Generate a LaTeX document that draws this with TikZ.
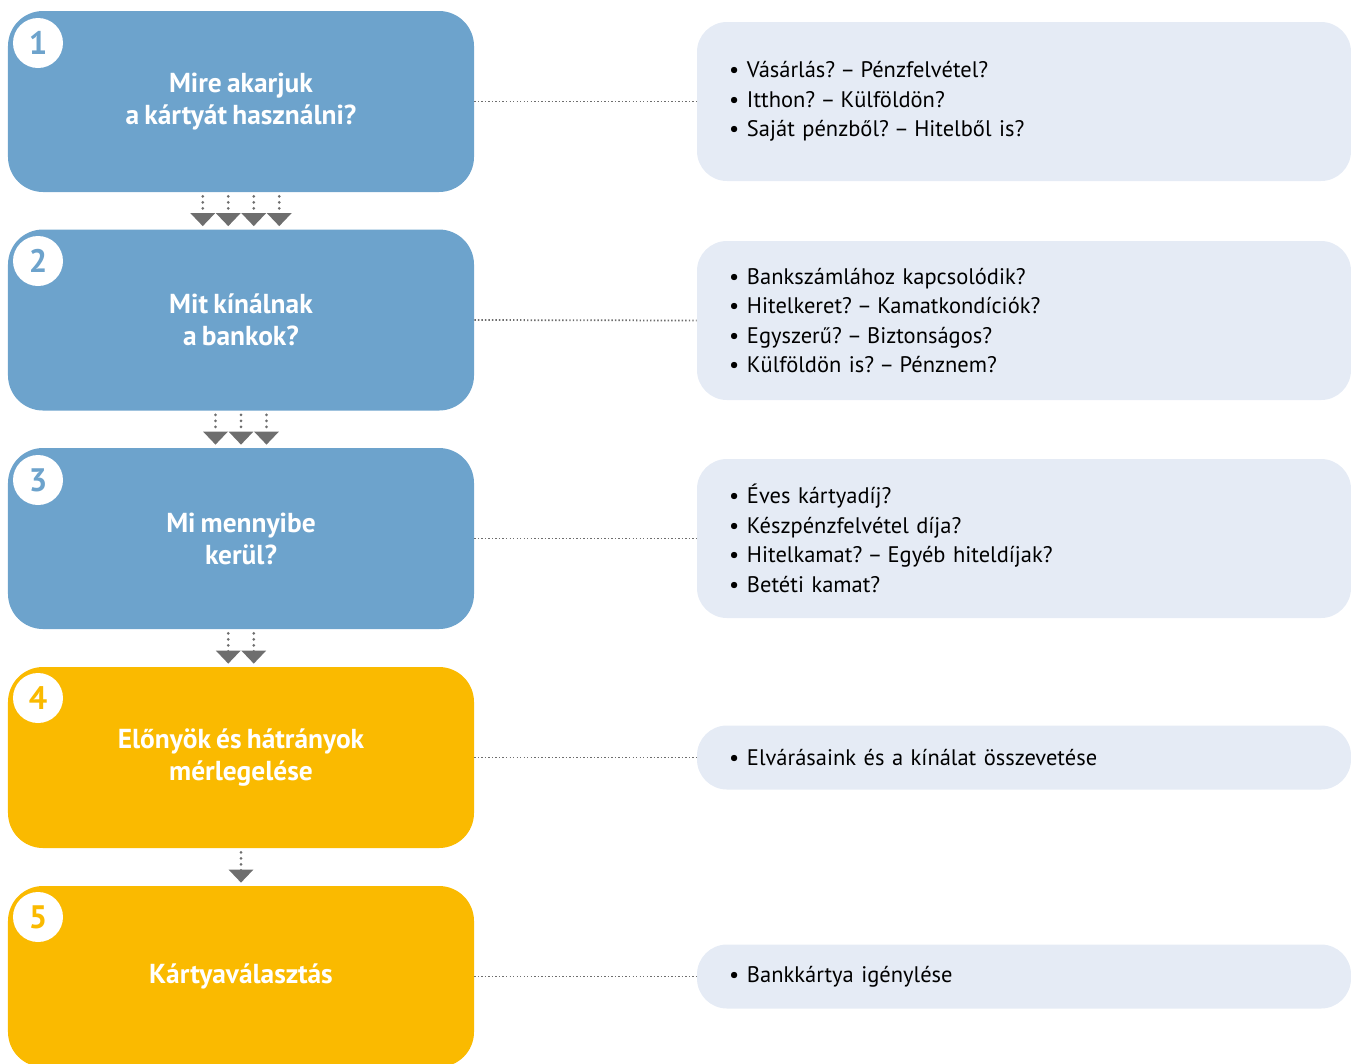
\documentclass[tikz,border=0pt]{standalone}
\usepackage{fontspec}
\setmainfont[WordSpace=0.75]{PT Sans}
\usepackage{tikz}
\usetikzlibrary{arrows.meta}

\definecolor{lepeskek}{HTML}{6DA3CC}
\definecolor{lepessarga}{HTML}{FABA00}
\definecolor{kerdeshatter}{HTML}{E5EBF5}
\definecolor{nyilszurke}{HTML}{6E6E6E}
\newcommand{\pont}{\makebox[3.6mm][l]{•}}
\newcommand{\koz}{\kern-0.1em–\kern-0.1em}
\frenchspacing

\begin{document}
\begin{tikzpicture}[x=0.2mm, y=-0.2mm,
    lepes/.style={fill=#1, rounded corners=7mm, minimum width=93.2mm, minimum height=36.2mm,
      text=white, align=center, font=\bfseries\fontsize{15.6}{18.2}\selectfont},
    szam/.style={circle, fill=white, minimum size=10mm, inner sep=0pt,
      font=\bfseries\fontsize{18.5}{18.5}\selectfont},
    kerdes/.style={fill=kerdeshatter, rounded corners=6mm, text width=118mm, inner xsep=6.4mm,
      align=left, font=\fontsize{12.8}{16.8}\selectfont},
    osszekoto/.style={nyilszurke, line width=1pt, dash pattern=on 0.8pt off 1.2pt},
    lefele/.style={nyilszurke, line width=0.6mm, line cap=round, dash pattern=on 0pt off 1.2mm,
      -{Triangle[width=4.8mm, length=2.6mm, line cap=butt]}, shorten <=0.8mm, shorten >=0.6mm}]
  \clip (0,0) rectangle (1351,1063);

  % lepesek
  \node[lepes=lepeskek] (b1) at (241,101.5) {Mire akarjuk\\a kártyát használni?};
  \node[lepes=lepeskek] (b2) at (241,320) {Mit kínálnak\\a bankok?};
  \node[lepes=lepeskek] (b3) at (241,538.5) {Mi mennyibe\\kerül?};
  \node[lepes=lepessarga] (b4) at (241,757.5) {Előnyök és hátrányok\\mérlegelése};
  \node[lepes=lepessarga] (b5) at (241,976.5) {Kártyaválasztás};

  \node[szam, text=lepeskek] (n1) at (38,43) {1};
  \node[szam, text=lepeskek] (n2) at (38,261) {2};
  \node[szam, text=lepeskek] (n3) at (38,480) {3};
  \node[szam, text=lepessarga] (n4) at (38,698) {4};
  \node[szam, text=lepessarga] (n5) at (38,917) {5};

  % kerdesek
  \node[kerdes, minimum height=31.8mm] (r1) at (1024,101.5)
    {\pont Vásárlás? \koz{} Pénzfelvétel?\\\pont Itthon? \koz{} Külföldön?\\\pont Saját pénzből? \koz{} Hitelből is?};
  \node[kerdes, minimum height=31.8mm] (r2) at (1024,320.5)
    {\pont Bankszámlához kapcsolódik?\\\pont Hitelkeret? \koz{} Kamatkondíciók?\\\pont Egyszerű? \koz{} Biztonságos?\\\pont Külföldön is? \koz{} Pénznem?};
  \node[kerdes, minimum height=31.8mm] (r3) at (1024,538.5)
    {\pont Éves kártyadíj?\\\pont Készpénzfelvétel díja?\\\pont Hitelkamat? \koz{} Egyéb hiteldíjak?\\\pont Betéti kamat?};
  \node[kerdes, minimum height=12.8mm] (r4) at (1024,757.5)
    {\pont Elvárásaink és a kínálat összevetése};
  \node[kerdes, minimum height=12.8mm] (r5) at (1024,976.5)
    {\pont Bankkártya igénylése};

  \draw[osszekoto] (b1.east) -- (r1.west);
  \draw[osszekoto] (b2.east) -- (r2.west);
  \draw[osszekoto] (b3.east) -- (r3.west);
  \draw[osszekoto] (b4.east) -- (r4.west);
  \draw[osszekoto] (b5.east) -- (r5.west);

  % nyilak
  \draw[lefele] ([xshift=-7.65mm]b1.south) -- ([xshift=-7.65mm]b2.north);
  \draw[lefele] ([xshift=-2.55mm]b1.south) -- ([xshift=-2.55mm]b2.north);
  \draw[lefele] ([xshift=2.55mm]b1.south) -- ([xshift=2.55mm]b2.north);
  \draw[lefele] ([xshift=7.65mm]b1.south) -- ([xshift=7.65mm]b2.north);
  \draw[lefele] ([xshift=-5.1mm]b2.south) -- ([xshift=-5.1mm]b3.north);
  \draw[lefele] (b2.south) -- (b3.north);
  \draw[lefele] ([xshift=5.1mm]b2.south) -- ([xshift=5.1mm]b3.north);
  \draw[lefele] ([xshift=-2.55mm]b3.south) -- ([xshift=-2.55mm]b4.north);
  \draw[lefele] ([xshift=2.55mm]b3.south) -- ([xshift=2.55mm]b4.north);
  \draw[lefele] (b4.south) -- (b5.north);
\end{tikzpicture}
\end{document}
